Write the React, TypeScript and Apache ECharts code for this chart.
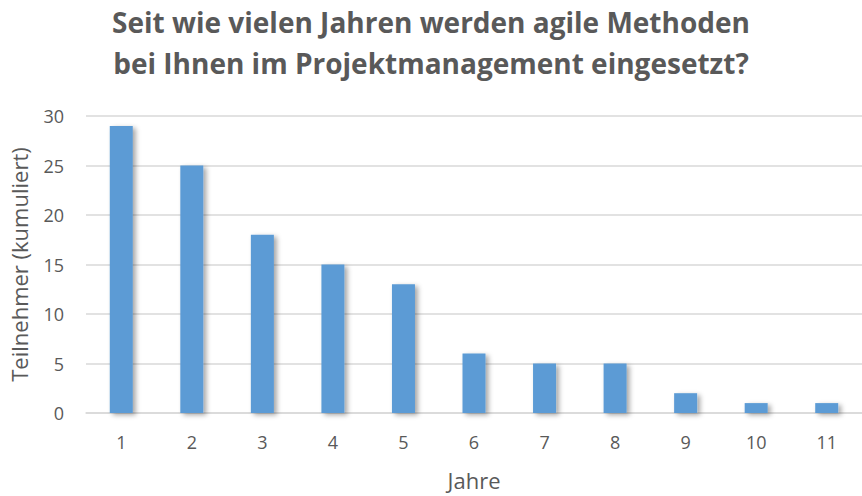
import React, { useEffect, useRef } from "react";
import * as echarts from "echarts";

const title = "Seit wie vielen Jahren werden agile Methoden\nbei Ihnen im Projektmanagement eingesetzt?";
const categories = ["1", "2", "3", "4", "5", "6", "7", "8", "9", "10", "11"];
const values = [29, 25, 18, 15, 13, 6, 5, 5, 2, 1, 1];
const yAxisName = "Teilnehmer (kumuliert)";
const xAxisName = "Jahre";

export default function App() {
  const ref = useRef<HTMLDivElement>(null);
  useEffect(() => {
    const chart = echarts.init(ref.current!, undefined, { renderer: "svg" });
    const font = "'Open Sans', sans-serif";
    chart.setOption({
      animation: false,
      title: {
        text: title,
        left: "center",
        top: -4,
        textStyle: {
          fontFamily: font,
          fontWeight: "bold",
          fontSize: 28,
          color: "#595959",
          lineHeight: 41,
        },
      },
      grid: { left: 84, right: 0, top: 116, bottom: 80 },
      xAxis: {
        type: "category",
        data: categories,
        name: xAxisName,
        nameLocation: "middle",
        nameGap: 56,
        nameTextStyle: { fontFamily: font, fontSize: 22, color: "#595959" },
        axisLine: { lineStyle: { color: "#d9d9d9", width: 1.5 } },
        axisTick: { show: false },
        axisLabel: { fontFamily: font, fontSize: 18, color: "#595959", margin: 20 },
      },
      yAxis: {
        type: "value",
        min: 0,
        max: 30,
        interval: 5,
        name: yAxisName,
        nameLocation: "middle",
        nameGap: 56,
        nameTextStyle: { fontFamily: font, fontSize: 22, color: "#595959" },
        axisLine: { show: false },
        axisTick: { show: false },
        axisLabel: { fontFamily: font, fontSize: 18, color: "#595959", margin: 22 },
        splitLine: { lineStyle: { color: "#d9d9d9", width: 1.5 } },
      },
      series: [
        {
          type: "bar",
          data: values,
          barWidth: 23,
          itemStyle: {
            color: "#5b9bd5",
            shadowColor: "rgba(0,0,0,0.35)",
            shadowBlur: 5,
            shadowOffsetX: 3,
            shadowOffsetY: 2,
          },
        },
      ],
    });
    return () => chart.dispose();
  }, []);
  return <div ref={ref} style={{ width: 862, height: 496, position: "absolute", left: 0, top: 0 }} />;
}
